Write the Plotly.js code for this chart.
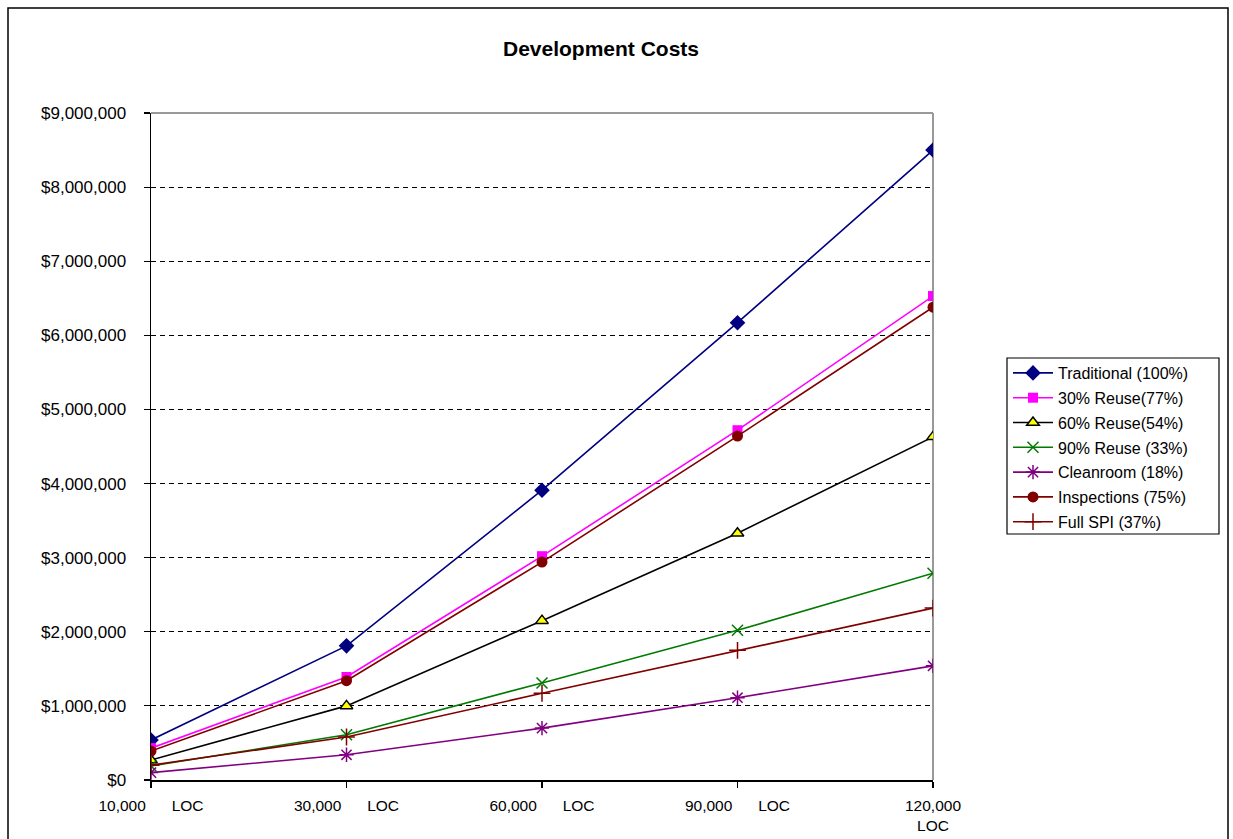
<!DOCTYPE html>
<html><head><meta charset="utf-8">
<script src="https://cdn.plot.ly/plotly-3.0.1.min.js"></script>
<style>html,body{margin:0;padding:0;background:#fff;}#chart{width:1233px;height:839px;}</style>
</head><body><div id="chart"></div>
<script>
const categories = ["10,000\u00A0\u00A0\u00A0\u00A0\u00A0\u00A0LOC", "30,000\u00A0\u00A0\u00A0\u00A0\u00A0\u00A0LOC", "60,000\u00A0\u00A0\u00A0\u00A0\u00A0\u00A0LOC", "90,000\u00A0\u00A0\u00A0\u00A0\u00A0\u00A0LOC", "120,000<br>LOC"];
const traditional = [540000, 1810000, 3910000, 6170000, 8500000];
const reuse30 = [430000, 1390000, 3020000, 4720000, 6530000];
const reuse60 = [270000, 1000000, 2150000, 3330000, 4630000];
const reuse90 = [190000, 610000, 1310000, 2020000, 2790000];
const cleanroom = [100000, 340000, 700000, 1110000, 1540000];
const inspections = [390000, 1340000, 2940000, 4640000, 6380000];
const fullSPI = [200000, 580000, 1170000, 1750000, 2320000];
const seriesNames = ["Traditional (100%)", "30% Reuse(77%)", "60% Reuse(54%)", "90% Reuse (33%)", "Cleanroom (18%)", "Inspections (75%)", "Full SPI (37%)"];
const yTickVals = [0,1000000,2000000,3000000,4000000,5000000,6000000,7000000,8000000,9000000];

function tr(name, y, color, symbol, msize, mcolor, mline, lw) {
  return {
    type: 'scatter', mode: 'lines+markers', name: name, x: categories, y: y,
    legendgroup: name,
    line: {color: color, width: 1.6},
    marker: {symbol: symbol, size: msize, color: mcolor, line: {color: mline, width: lw}}
  };
}
const data = [
  tr(seriesNames[0], traditional, '#000080', 'diamond', 12, '#000080', '#000080', 0),
  tr(seriesNames[1], reuse30, '#FF00FF', 'square', 10, '#FF00FF', '#FF00FF', 0),
  tr(seriesNames[2], reuse60, '#000000', 'triangle-up', 11, '#FFFF00', '#000000', 1.5),
  tr(seriesNames[3], reuse90, '#007A00', 'x-thin', 11, '#007A00', '#007A00', 1.5),
  tr(seriesNames[4], cleanroom, '#800080', 'asterisk', 12, '#800080', '#800080', 1.5),
  tr(seriesNames[5], inspections, '#800000', 'circle', 11, '#800000', '#800000', 0),
  tr(seriesNames[6], fullSPI, '#800000', 'cross-thin', 12, '#800000', '#800000', 1.5)
];

const L = 151, R = 933, T = 113, B = 780;
const px = v => (v - L) / (R - L);
const py = v => (B - v) / (B - T);

const layout = {
  width: 1233, height: 839,
  margin: {l: L, r: 1233 - R, t: T, b: 839 - B},
  paper_bgcolor: '#fff', plot_bgcolor: '#fff',
  font: {family: 'Liberation Sans, Arial, sans-serif', size: 16, color: '#000'},
  title: {text: '<b>Development Costs</b>', font: {size: 21, color: '#000'}, x: px(601), xref: 'paper', xanchor: 'center', y: 1 - 49/839, yanchor: 'middle'},
  showlegend: true,
  legend: {x: px(1008), y: py(356), xanchor: 'left', yanchor: 'top', borderwidth: 0, bgcolor: 'rgba(0,0,0,0)', font: {size: 16}, traceorder: 'grouped', tracegroupgap: 1, itemwidth: 40},
  xaxis: {type: 'category', range: [0, 4], showgrid: false, zeroline: false, showline: true, linecolor: '#000', linewidth: 1.5,
    ticks: 'outside', ticklen: 6, tickcolor: '#000', tickwidth: 1.2, tickfont: {size: 15.5}, ticklabelstandoff: 5, fixedrange: true},
  yaxis: {range: [0, 9000000], tickvals: yTickVals, tickformat: '$,.0f', showgrid: true, gridcolor: '#000', griddash: '5px,4px', gridwidth: 1,
    zeroline: false, showline: true, linecolor: '#000', linewidth: 1.5, ticks: 'outside', ticklen: 6, tickcolor: '#000', tickwidth: 1.2, tickfont: {size: 17}, ticklabelstandoff: 14, fixedrange: true},
  shapes: [
    {type: 'line', xref: 'paper', yref: 'paper', x0: 0, x1: 1, y0: 1, y1: 1, line: {color: '#999', width: 2}},
    {type: 'line', xref: 'paper', yref: 'paper', x0: 1, x1: 1, y0: 0, y1: 1, line: {color: '#999', width: 2}, layer: 'below'},
    {type: 'rect', xref: 'paper', yref: 'paper', x0: px(1007), x1: px(1219), y0: py(534), y1: py(358), line: {color: '#000', width: 1.2}},
    {type: 'rect', xref: 'paper', yref: 'paper', x0: px(8), x1: px(1228), y0: py(846), y1: py(8), line: {color: '#000', width: 1.5}}
  ]
};
Plotly.newPlot('chart', data, layout, {displayModeBar: false, staticPlot: true});
</script></body></html>
